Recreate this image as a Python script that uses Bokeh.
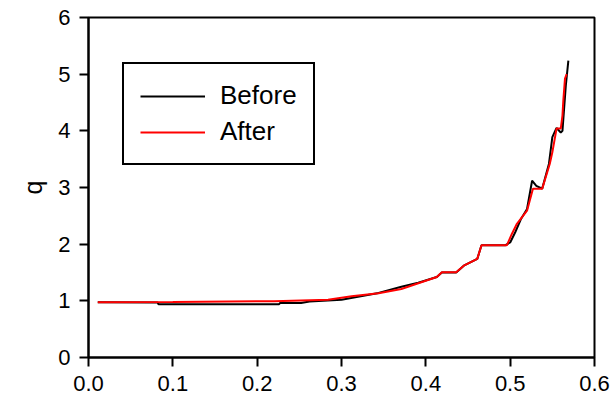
from bokeh.plotting import figure
from bokeh.models import FixedTicker, PrintfTickFormatter, Range1d, Legend, LegendItem
from bokeh.embed import file_html
from bokeh.resources import INLINE

# "Before" series
before_x = [0.011, 0.082, 0.083, 0.226, 0.227, 0.252, 0.262, 0.300, 0.344, 0.371, 0.391,
            0.413, 0.419, 0.436, 0.445, 0.461, 0.466, 0.494, 0.500, 0.506, 0.513, 0.520,
            0.526, 0.531, 0.538, 0.546, 0.550, 0.555, 0.560, 0.562, 0.566, 0.569]
before_y = [0.975, 0.970, 0.940, 0.940, 0.960, 0.960, 0.990, 1.020, 1.140, 1.250, 1.320,
            1.420, 1.500, 1.500, 1.620, 1.740, 1.980, 1.980, 2.030, 2.210, 2.450, 2.620,
            3.120, 3.030, 2.980, 3.420, 3.890, 4.050, 3.970, 4.000, 4.800, 5.240]

# "After" series
after_x = [0.011, 0.100, 0.220, 0.284, 0.312, 0.344, 0.371, 0.399, 0.413, 0.419, 0.436,
           0.445, 0.461, 0.466, 0.496, 0.502, 0.508, 0.520, 0.527, 0.538, 0.547, 0.550,
           0.555, 0.560, 0.562, 0.563, 0.565, 0.567]
after_y = [0.976, 0.978, 0.994, 1.020, 1.080, 1.135, 1.210, 1.350, 1.420, 1.505, 1.505,
           1.620, 1.740, 1.980, 1.980, 2.180, 2.360, 2.590, 2.980, 2.980, 3.420, 3.620,
           4.040, 4.040, 4.270, 4.530, 4.920, 5.000]

x_ticks = [0.0, 0.1, 0.2, 0.3, 0.4, 0.5, 0.6]
y_ticks = [0, 1, 2, 3, 4, 5, 6]

FONT = "Liberation Sans"

p = figure(width=614, height=403, output_backend="svg", toolbar_location=None,
           x_range=Range1d(0, 0.6), y_range=Range1d(0, 6),
           min_border_left=88, min_border_right=20, min_border_top=17, min_border_bottom=46)
p.frame_width = 506
p.frame_height = 340

p.grid.visible = False
p.outline_line_color = "black"
p.outline_line_width = 2
p.outline_line_alpha = 1.0
p.background_fill_color = "white"
p.border_fill_color = "white"

for ax in (p.xaxis[0], p.yaxis[0]):
    ax.axis_line_width = 2
    ax.axis_line_color = "black"
    ax.major_tick_line_width = 2
    ax.major_tick_line_color = "black"
    ax.major_tick_out = 9
    ax.major_tick_in = 0
    ax.minor_tick_line_color = None
    ax.major_label_text_font = FONT
    ax.major_label_text_font_size = "22px"
    ax.major_label_text_color = "black"
    ax.major_label_standoff = 9

p.xaxis.ticker = FixedTicker(ticks=x_ticks)
p.xaxis.formatter = PrintfTickFormatter(format="%.1f")
p.yaxis.ticker = FixedTicker(ticks=y_ticks)
p.yaxis.formatter = PrintfTickFormatter(format="%d")

p.yaxis.axis_label = "q"
p.yaxis.axis_label_text_font = FONT
p.yaxis.axis_label_text_font_size = "25px"
p.yaxis.axis_label_text_font_style = "normal"
p.yaxis.axis_label_text_color = "black"
p.yaxis.axis_label_standoff = 8

r_before = p.line(before_x, before_y, line_color="black", line_width=2)
r_after = p.line(after_x, after_y, line_color="#ff0000", line_width=2)

legend = Legend(items=[LegendItem(label="Before", renderers=[r_before]),
                       LegendItem(label="After", renderers=[r_after])],
                location=(34, 192))
legend.margin = 0
legend.padding = 16
legend.spacing = 5
legend.glyph_width = 65
legend.glyph_height = 30
legend.label_height = 30
legend.label_standoff = 15
legend.label_text_font = FONT
legend.label_text_font_size = "26px"
legend.label_text_color = "black"
legend.border_line_color = "black"
legend.border_line_alpha = 1.0
legend.border_line_width = 2
legend.background_fill_color = "white"
legend.background_fill_alpha = 1.0
p.add_layout(legend)

open("out.html", "w").write(file_html(p, INLINE))
